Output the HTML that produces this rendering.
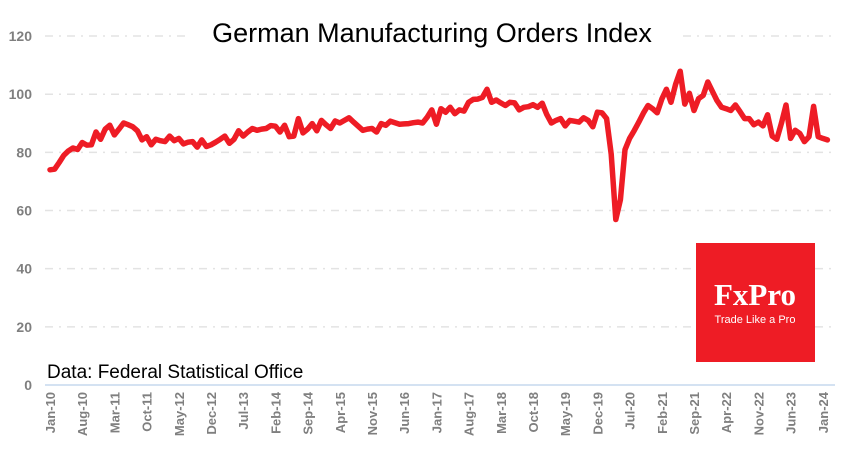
<!DOCTYPE html>
<html><head><meta charset="utf-8"><style>
body{margin:0;background:#fff;}
svg text{font-family:"Liberation Sans",sans-serif;}
</style></head><body>
<svg width="859" height="470" viewBox="0 0 859 470" xmlns="http://www.w3.org/2000/svg">
<rect width="859" height="470" fill="#fff"/>
<g id="grid"></g>
<rect x="185" y="14" width="495" height="34" fill="#fff"/>
<text x="432" y="42" font-size="27" text-anchor="middle" fill="#000">German Manufacturing Orders Index</text>
<g id="yticks"></g>
<g id="xticks"></g>
<line x1="45" y1="385" x2="835" y2="385" stroke="#c5d8ee" stroke-width="1.5"/>
<path id="line" fill="none" stroke="#ee1c25" stroke-width="5.5" stroke-linejoin="round" stroke-linecap="round"/>
<text x="47" y="378" font-size="19" fill="#000">Data: Federal Statistical Office</text>
<g>
<rect x="696" y="243" width="119" height="119" fill="#ee1c25"/>
<text x="755" y="305" font-size="31" font-weight="bold" text-anchor="middle" fill="#fff" style="font-family:'Liberation Serif',serif">FxPro</text>
<text x="755" y="323" font-size="11" text-anchor="middle" fill="#fff">Trade Like a Pro</text>
</g>
</svg>
<script>
const yTicks=[0,20,40,60,80,100,120];
const xLabels=["Jan-10","Aug-10","Mar-11","Oct-11","May-12","Dec-12","Jul-13","Feb-14","Sep-14","Apr-15","Nov-15","Jun-16","Jan-17","Aug-17","Mar-18","Oct-18","May-19","Dec-19","Jul-20","Feb-21","Sep-21","Apr-22","Nov-22","Jun-23","Jan-24"];
const values=[
74,74.2,76.5,79,80.5,81.5,81,83.4,82.5,82.6,87,84.5,
88,89.3,86,88,90.1,89.5,88.8,87.4,84.3,85.4,82.6,84.5,
84,83.7,85.6,84,84.8,82.9,83.5,83.7,81.8,84.3,82,82.6,
83.5,84.5,85.6,83.1,84.5,87.4,85.6,87,88.2,87.6,88,88.2,
89.2,89,87,89.3,85.4,85.6,91.6,86.7,88,89.9,87.4,91,
89.5,88.2,90.8,90.1,91,91.9,90.4,89,87.6,88,88.2,87,
89.9,89.3,90.7,90.2,89.7,89.8,89.9,90.2,90.4,90.1,92.1,94.6,
89.7,95,93.8,95.5,93.3,94.6,94.2,97.2,98.2,98.3,98.9,101.7,
97.2,98,97,96.1,97.2,97,94.6,95.5,95.7,96.4,95.5,96.9,
93,90.1,91,91.6,89.1,91,90.7,90.4,91.9,91,88.8,93.8,
93.6,91.6,79.4,56.9,63.7,80.9,84.8,87.5,90.4,93.5,96.1,95,
93.6,98.3,101.7,97.2,103.4,107.9,96.6,100.3,94.4,98.5,99.6,104.2,
101,97.8,95.5,95,94.4,96.3,94,91.6,91.6,89.5,90.4,89.1,
92.9,85.6,84.5,90,96.3,84.8,87.6,86.5,83.7,85.4,95.8,85.4,
84.8,84.3];
const NS="http://www.w3.org/2000/svg";
const x=m=>50+m*4.6;
const y=v=>385-v*2.908;
const grid=document.getElementById('grid'),yt=document.getElementById('yticks'),xt=document.getElementById('xticks');
yTicks.forEach(t=>{
  if(t>0){const l=document.createElementNS(NS,'line');
  l.setAttribute('x1',45);l.setAttribute('x2',835);l.setAttribute('y1',y(t));l.setAttribute('y2',y(t));
  l.setAttribute('stroke','#e3e3e3');l.setAttribute('stroke-width','1.5');l.setAttribute('stroke-dasharray','8 6 2 6');
  
  
  grid.appendChild(l);}
  const tx=document.createElementNS(NS,'text');
  tx.setAttribute('x',32);tx.setAttribute('y',y(t)+5);tx.setAttribute('text-anchor','end');
  tx.setAttribute('font-size','14');tx.setAttribute('font-weight','bold');tx.setAttribute('fill','#7f7f7f');
  tx.textContent=t;
  
  
  yt.appendChild(tx);
});
xLabels.forEach((s,i)=>{
  const px=x(i*7);
  const tx=document.createElementNS(NS,'text');
  tx.setAttribute('transform','translate('+(px+5)+',392) rotate(-90)');
  tx.setAttribute('text-anchor','end');tx.setAttribute('font-size','13');tx.setAttribute('font-weight','bold');tx.setAttribute('fill','#7f7f7f');
  tx.textContent=s;
  
  
  xt.appendChild(tx);
});
document.getElementById('line').setAttribute('d',values.map((v,i)=>(i?'L':'M')+x(i).toFixed(1)+' '+y(v).toFixed(1)).join(' '));
</script>
</body></html>
